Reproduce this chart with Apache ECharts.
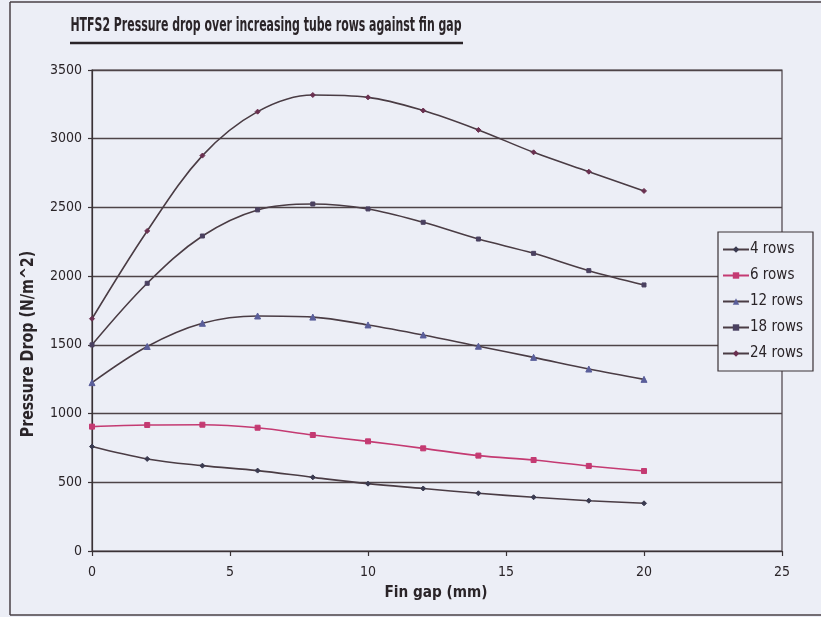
<!DOCTYPE html>
<html>
<head>
<meta charset="utf-8">
<script src="https://cdn.jsdelivr.net/npm/echarts@6/dist/echarts.min.js"></script>
<style>html,body{margin:0;padding:0;background:#eceef6;}#c{width:821px;height:617px;}</style>
</head>
<body>
<div id="c"></div>
<script>
const finGap = [0, 2, 4, 6, 8, 10, 12, 14, 16, 18, 20];
const rows4  = [760, 670, 621, 585, 536, 490, 455, 420, 391, 366, 347];
const rows6  = [905, 917, 919, 897, 844, 798, 747, 694, 662, 619, 582];
const rows12 = [1225, 1488, 1657, 1710, 1702, 1645, 1572, 1490, 1409, 1324, 1249];
const rows18 = [1500, 1948, 2292, 2482, 2525, 2489, 2392, 2270, 2166, 2040, 1936];
const rows24 = [1690, 2329, 2877, 3197, 3318, 3301, 3205, 3064, 2901, 2760, 2620];
const seriesNames = ['4 rows', '6 rows', '12 rows', '18 rows', '24 rows'];
const xTicks = [0, 5, 10, 15, 20, 25];
const yTicks = [0, 500, 1000, 1500, 2000, 2500, 3000, 3500];

const FONT = '"DejaVu Sans Condensed", "Liberation Sans Narrow", "Liberation Sans", sans-serif';
const lineCol = '#4a3c44';

function pairs(v) { return finGap.map((x, i) => [x, v[i]]); }

const styles = [
  { data: rows4,  color: lineCol, symbol: 'diamond', size: 5, mark: '#3a3a50' },
  { data: rows6,  color: '#c43a72', symbol: 'rect', size: 5, mark: '#c43a72' },
  { data: rows12, color: lineCol, symbol: 'triangle', size: 6, mark: '#5a5e9a' },
  { data: rows18, color: lineCol, symbol: 'rect', size: 4, mark: '#4a4060' },
  { data: rows24, color: lineCol, symbol: 'diamond', size: 5, mark: '#6a3050' }
];

const chart = echarts.init(document.getElementById('c'), null, { renderer: 'canvas' });
chart.setOption({
  backgroundColor: '#eceef6',
  animation: false,
  grid: { left: 92, right: 39, top: 70, bottom: 66, show: true, borderColor: '#4a4046', borderWidth: 1.2, backgroundColor: 'transparent' },
  legend: {
    orient: 'vertical', left: 718, top: 232, width: 95, height: 155,
    backgroundColor: '#eceef6', borderColor: '#3a3236', borderWidth: 1.2,
    padding: [10, 10, 10, 4], itemGap: 11, itemWidth: 26, itemHeight: 8,
    textStyle: { fontFamily: FONT, fontSize: 15, color: '#2a2428', padding: [0, 0, 0, -4] },
    data: seriesNames
  },
  xAxis: {
    type: 'value', min: 0, max: 25, interval: 5,
    axisLine: { show: true, lineStyle: { color: '#3a3236', width: 1.2 } },
    axisTick: { show: true, length: 5, lineStyle: { color: '#3a3236', width: 1.2 } },
    axisLabel: { fontFamily: FONT, fontSize: 14, color: '#2a2428', margin: 14,
      formatter: v => xTicks.includes(v) ? String(v) : '' },
    splitLine: { show: false }
  },
  yAxis: {
    type: 'value', min: 0, max: 3500, interval: 500,
    axisLine: { show: true, lineStyle: { color: '#3a3236', width: 1.2 } },
    axisTick: { show: true, length: 4, lineStyle: { color: '#3a3236', width: 1.2 } },
    axisLabel: { fontFamily: FONT, fontSize: 14, color: '#2a2428', margin: 10,
      formatter: v => yTicks.includes(v) ? String(v) : '' },
    splitLine: { show: true, lineStyle: { color: '#4e4448', width: 1.3 } }
  },
  graphic: [
    { type: 'text', x: 266, y: 26, scaleX: 0.64,
      style: { text: 'HTFS2 Pressure drop over increasing tube rows against fin gap', font: 'bold 19px ' + FONT, fill: '#2a2428', textAlign: 'center', textVerticalAlign: 'middle' } },
    { type: 'line', shape: { x1: 70, y1: 43, x2: 463, y2: 43 }, style: { stroke: '#2a2428', lineWidth: 2.5 } },
    { type: 'line', shape: { x1: 10, y1: 2, x2: 821, y2: 2 }, style: { stroke: '#4a4046', lineWidth: 1.5 } },
    { type: 'line', shape: { x1: 10, y1: 2, x2: 10, y2: 615 }, style: { stroke: '#4a4046', lineWidth: 1.5 } },
    { type: 'line', shape: { x1: 10, y1: 615, x2: 821, y2: 615 }, style: { stroke: '#4a4046', lineWidth: 1.5 } },
    { type: 'text', x: 28, y: 344, rotation: Math.PI / 2, scaleX: 0.88,
      style: { text: 'Pressure Drop (N/m^2)', font: 'bold 18px ' + FONT, fill: '#2a2428', textAlign: 'center', textVerticalAlign: 'middle' } },
    { type: 'text', x: 436, y: 593, scaleX: 0.95,
      style: { text: 'Fin gap (mm)', font: 'bold 16px ' + FONT, fill: '#2a2428', textAlign: 'center', textVerticalAlign: 'middle' } }
  ],
  series: styles.map((s, i) => ({
    name: seriesNames[i], type: 'line', data: pairs(s.data), smooth: 0.35,
    symbol: s.symbol, symbolSize: s.size, showSymbol: true,
    lineStyle: { color: s.color, width: 1.6 },
    itemStyle: { color: s.mark, borderColor: s.mark }
  }))
});
</script>
</body>
</html>
